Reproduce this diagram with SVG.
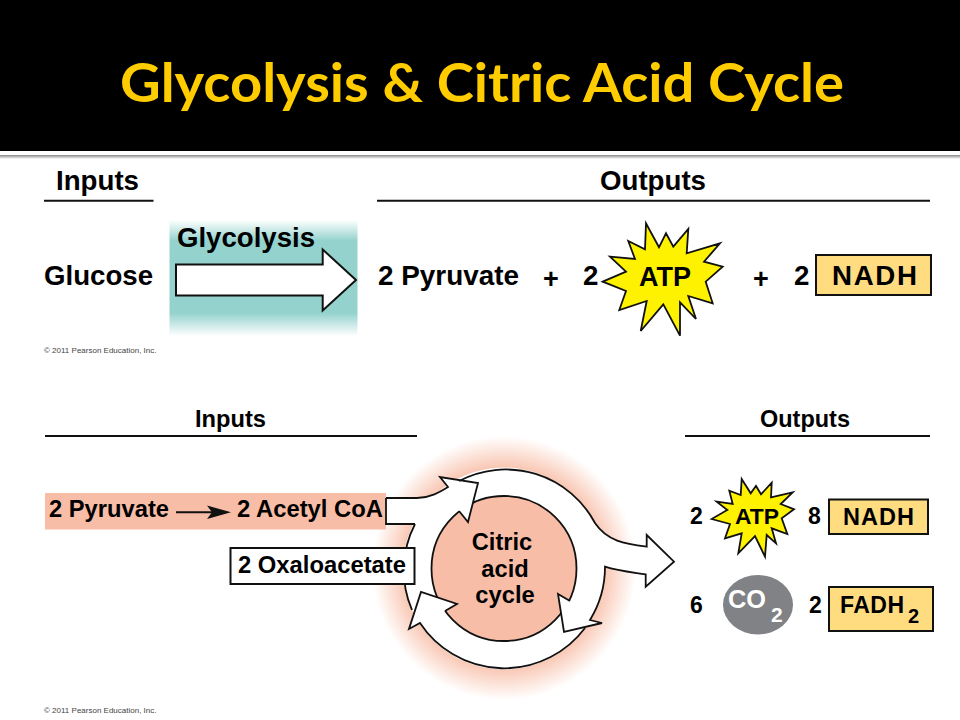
<svg xmlns="http://www.w3.org/2000/svg" width="960" height="720" viewBox="0 0 960 720">
<style>
text{font-family:"Liberation Sans",Arial,sans-serif;font-weight:700;fill:#000}
.line{stroke:#111;stroke-width:2;fill:none}
.out{stroke:#111;stroke-width:1.8;fill:none;stroke-linejoin:miter}
.box{fill:#ffdc80;stroke:#111;stroke-width:2}
.star{fill:#fff200;stroke:#111;stroke-width:1.8;stroke-linejoin:miter}
.copy{font-size:8px;font-weight:400;fill:#444}
.w{fill:#fff;stroke:none}
</style>
<defs>
<linearGradient id="teal" x1="0" y1="0" x2="0" y2="1">
<stop offset="0" stop-color="#93d2cd" stop-opacity="0"/>
<stop offset="0.18" stop-color="#93d2cd"/>
<stop offset="0.8" stop-color="#93d2cd"/>
<stop offset="1" stop-color="#93d2cd" stop-opacity="0"/>
</linearGradient>
<linearGradient id="shade" x1="0" y1="0" x2="0" y2="1">
<stop offset="0" stop-color="#888"/>
<stop offset="1" stop-color="#fff"/>
</linearGradient>
<radialGradient id="glow" gradientUnits="userSpaceOnUse" cx="504" cy="568" r="132">
<stop offset="0.72" stop-color="#f8bda6"/>
<stop offset="1" stop-color="#f8bda6" stop-opacity="0"/>
</radialGradient>
</defs>
<rect width="960" height="720" fill="#fff"/>
<g id="header">
<rect width="960" height="151" fill="#000"/>
<rect y="155" width="960" height="4" fill="url(#shade)"/>
<text x="120" y="102" textLength="724" lengthAdjust="spacingAndGlyphs" style="font-family:Lato,'Liberation Sans',sans-serif;font-size:54px;fill:#fc0">Glycolysis &amp; Citric Acid Cycle</text>
</g>
<g id="top-headings">
<text x="56" y="190" font-size="27.700" textLength="83" lengthAdjust="spacingAndGlyphs">Inputs</text>
<path class="line" d="M44 200.700H153.500"/>
<text x="600" y="190" font-size="27.700" textLength="106" lengthAdjust="spacingAndGlyphs">Outputs</text>
<path class="line" d="M377 200.700H930"/>
</g>
<g id="glucose"><text x="44" y="285" font-size="27.700" textLength="109" lengthAdjust="spacingAndGlyphs">Glucose</text></g>
<g id="glycolysis">
<rect x="169.500" y="220" width="188" height="116" fill="url(#teal)"/>
<text x="177" y="247" font-size="27.700" textLength="138" lengthAdjust="spacingAndGlyphs">Glycolysis</text>
<path fill="#fff" stroke="#111" stroke-width="2" d="M176 264.500H322.700V249.500L356 280L322.700 310.500V295.500H176Z"/>
</g>
<g id="pyruvate-top"><text x="378" y="285" font-size="27.700" textLength="141" lengthAdjust="spacingAndGlyphs">2 Pyruvate</text></g>
<g id="plus1"><text x="543" y="288" font-size="27">+</text></g>
<g id="atp-top">
<text x="583" y="285" font-size="27.700">2</text>
<polygon class="star" points="602.700,281.700 626,271.700 610,256.700 635,259 628.300,241 645,249.300 646,223.300 659,247.300 666,233.300 673.300,246.700 688.300,229 686.700,253.300 720,243.300 704,261.700 722.700,266.700 705.700,281.700 712.700,303.300 688.300,296 696,319 680,302.300 680,335.700 663.300,304.300 640.700,331 646.700,301 619.300,310 626,291"/>
<text x="639" y="286" font-size="27" textLength="52" lengthAdjust="spacingAndGlyphs">ATP</text>
</g>
<g id="plus2"><text x="753" y="288" font-size="27">+</text></g>
<g id="nadh-top">
<text x="794" y="285" font-size="27.700">2</text>
<rect class="box" x="816" y="255" width="115" height="40"/>
<text x="832" y="285" font-size="27.700" textLength="85">NADH</text>
</g>
<text class="copy" x="44" y="353">© 2011 Pearson Education, Inc.</text>

<g id="bottom-headings">
<text x="195" y="427" font-size="23.700" textLength="71" lengthAdjust="spacingAndGlyphs">Inputs</text>
<path class="line" d="M45 436H417"/>
<text x="760" y="427" font-size="23.700" textLength="90" lengthAdjust="spacingAndGlyphs">Outputs</text>
<path class="line" d="M685 436H930"/>
</g>

<g id="cycle-glow"><circle cx="504" cy="568" r="132" fill="url(#glow)"/></g>
<rect id="input-band" x="45" y="493" width="341" height="36.500" fill="#f8bda6"/>
<g id="pyruvate-acetyl">
<text x="49" y="517" font-size="23.700" textLength="120" lengthAdjust="spacingAndGlyphs">2 Pyruvate</text>
<text x="237" y="517" font-size="23.700" textLength="146" lengthAdjust="spacingAndGlyphs">2 Acetyl CoA</text>
</g>
<g id="citric-cycle">
<circle class="w" cx="504" cy="568.500" r="101"/>
<path class="w" d="M386 498H417C430 498 440 492 448 487L468 522L415 524H386Z"/>
<path class="w" d="M595 523C607 541 625 544 646.700 546.700V535L674 561.700L645.700 586.700V574.300C630 572 618 571 605 566.700Z"/>
<circle cx="504" cy="568.500" r="72.500" fill="#f8bda6" stroke="#111" stroke-width="1.800"/>
<path class="w" d="M448 487L440 477L478 483L468 522L459 511Z"/>
<path class="w" d="M570 601L558 594L564 632L602 623L590 620Z"/>
<path class="w" d="M445 611L457 604L421 592L409 629L420 623Z"/>
<path class="out" d="M386 498H417C430 498 440 492 448 487L440 477L478 483L468 522L459 511"/>
<path class="out" d="M415 524H386V498"/>
<path class="out" d="M459 481A101 101 0 0 1 595 523C607 541 625 544 646.700 546.700V535L674 561.700L645.700 586.700V574.300C630 572 618 571 605 566.700A101 101 0 0 1 590 620L602 623L564 632L558 594L570 601"/>
<path class="out" d="M585 628A101 101 0 0 1 420 623L409 629L421 592L457 604L445 611"/>
<path class="out" d="M415 524A101 101 0 0 0 412 610"/>
<text x="502" y="550" font-size="23.700" text-anchor="middle">Citric</text>
<text x="505" y="577" font-size="23.700" text-anchor="middle">acid</text>
<text x="505" y="603" font-size="23.700" text-anchor="middle">cycle</text>
</g>
<g id="connectors">
<path class="line" d="M176 512.300H215"/>
<path fill="#111" d="M231 512.300L207 505.500L212 512.300L207 519Z"/>
</g>
<g id="oxaloacetate">
<rect x="230.500" y="548" width="184" height="36" fill="#fff" stroke="#111" stroke-width="2"/>
<text x="238" y="573" font-size="23.700" textLength="168" lengthAdjust="spacingAndGlyphs">2 Oxaloacetate</text>
</g>
<g id="atp-bottom">
<text x="690" y="524" font-size="23">2</text>
<polygon class="star" points="711.700,519 727.300,510 716.700,501.700 732.700,504 729.300,490.700 740.700,495 741.700,479 750.700,493.300 756,486 761,494.300 771.700,482.700 771,497.300 792.700,492.300 780.700,504 794,509.300 781.700,518.300 787.300,534 771.700,528.300 776,543.300 766.700,535 765,556.700 755,536 738.300,553.300 741.700,533.300 725,538.300 730,524"/>
<text x="735" y="523.500" font-size="22.500" textLength="44" lengthAdjust="spacingAndGlyphs">ATP</text>
</g>
<g id="nadh-bottom">
<text x="808" y="524" font-size="23">8</text>
<rect class="box" x="829" y="499.500" width="99" height="34.500"/>
<text x="843" y="525" font-size="23.500" textLength="71">NADH</text>
</g>
<g id="co2">
<text x="690" y="612.700" font-size="23">6</text>
<ellipse cx="758" cy="604.700" rx="35" ry="29.700" fill="#808285"/>
<text x="728" y="608" font-size="26" textLength="38" lengthAdjust="spacingAndGlyphs" style="fill:#fff">CO</text>
<text x="771" y="622" font-size="21" style="fill:#fff">2</text>
</g>
<g id="fadh2">
<text x="809" y="612.700" font-size="23">2</text>
<rect class="box" x="829" y="587" width="104" height="44"/>
<text x="840" y="613.300" font-size="23" textLength="64">FADH</text>
<text x="908" y="623" font-size="20">2</text>
</g>
<text class="copy" x="44" y="713">© 2011 Pearson Education, Inc.</text>
</svg>
